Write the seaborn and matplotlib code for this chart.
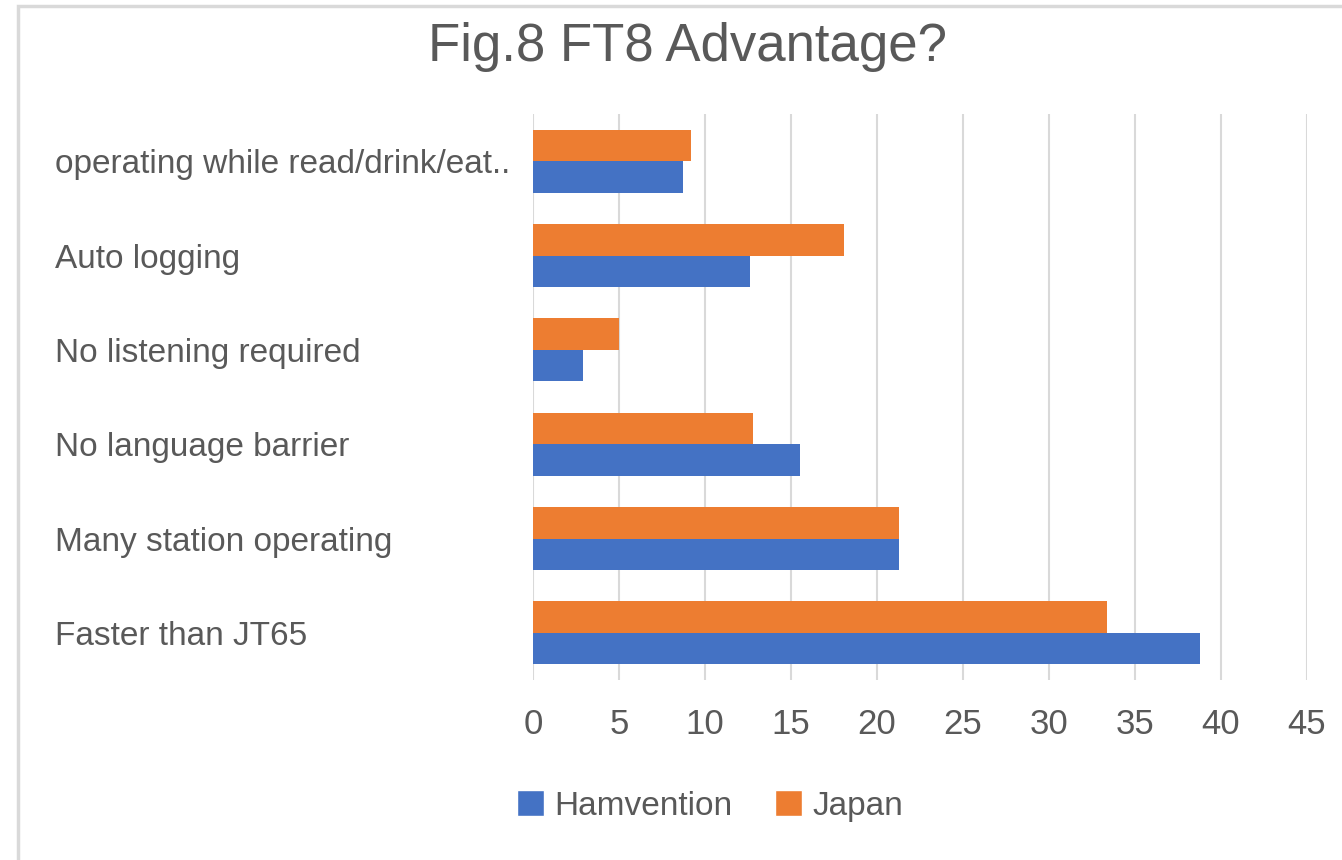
import matplotlib
matplotlib.use("Agg")
import matplotlib.pyplot as plt
from matplotlib.patches import Patch, Rectangle
import pandas as pd
import seaborn as sns

categories = ["operating while read/drink/eat..", "Auto logging", "No listening required",
              "No language barrier", "Many station operating", "Faster than JT65"]
hamvention = [8.7, 12.6, 2.9, 15.5, 21.3, 38.8]
japan = [9.2, 18.1, 5.0, 12.8, 21.3, 33.4]
series = ["Hamvention", "Japan"]
colors = {"Hamvention": "#4472C4", "Japan": "#ED7D31"}

df = pd.DataFrame({
    "category": categories * 2,
    "value": hamvention + japan,
    "series": ["Hamvention"] * len(categories) + ["Japan"] * len(categories),
})

sns.set_style("white")
plt.rcParams["font.family"] = ["Liberation Sans", "DejaVu Sans"]
text_col = "#595959"

fig = plt.figure(figsize=(13.42, 8.6), dpi=100)
ax = fig.add_axes([533 / 1342, 1 - 680 / 860, (1307 - 533) / 1342, (680 - 114) / 860])

# Japan drawn above Hamvention in each group
sns.barplot(data=df, y="category", x="value", hue="series", hue_order=["Japan", "Hamvention"],
            palette=colors, orient="h", width=0.67, ax=ax, legend=False, saturation=1,
            linewidth=0)

ax.set_xlim(0, 45)
ax.set_xticks(range(0, 46, 5))
ax.xaxis.grid(True, color="#D9D9D9", linewidth=1.5)
ax.set_axisbelow(True)
for s in ax.spines.values():
    s.set_visible(False)
ax.set_xlabel("")
ax.set_ylabel("")
ax.tick_params(axis="x", length=0, pad=20, labelsize=25, labelcolor=text_col)
ax.tick_params(axis="y", length=0, pad=344, labelsize=24, labelcolor=text_col)
for lbl in ax.get_yticklabels():
    lbl.set_ha("left")

fig.suptitle("Fig.8 FT8 Advantage?", x=688 / 1342, y=1 - 47 / 860, va="center",
             fontsize=38, color=text_col)

handles = [Patch(facecolor=colors[s], label=s) for s in series]
fig.legend(handles=handles, loc="center", bbox_to_anchor=(710 / 1342, 1 - 806 / 860), ncol=2,
           frameon=False, fontsize=24, labelcolor=text_col, handlelength=0.8, handleheight=0.8,
           handletextpad=0.3, columnspacing=1.3)

fig.patches.append(Rectangle((18 / 1342, -0.1), 1.2, 1 - 6 / 860 + 0.1, transform=fig.transFigure,
                             fill=False, edgecolor="#D9D9D9", linewidth=2.5))

fig.savefig("out.png", dpi=100)
